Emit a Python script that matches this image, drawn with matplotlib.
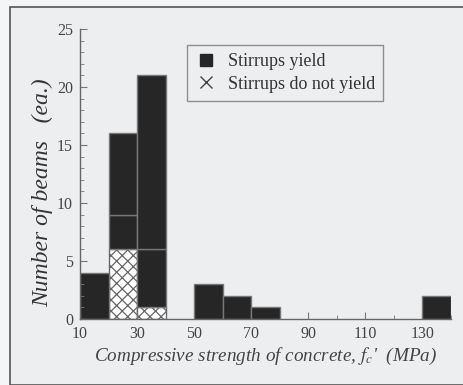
import matplotlib
matplotlib.use("Agg")
import matplotlib.pyplot as plt
from matplotlib.patches import Patch, Rectangle
from matplotlib.lines import Line2D
import numpy as np

bin_left = [10, 20, 30, 50, 60, 70, 130]
bin_width = 10
not_yield = [0, 6, 1, 0, 0, 0, 0]
yield_low = [0, 3, 5, 0, 0, 0, 0]
yield_high = [4, 7, 15, 3, 2, 1, 2]
xticks = [10, 30, 50, 70, 90, 110, 130]
yticks = [0, 5, 10, 15, 20, 25]

plt.rcParams['font.family'] = ['Liberation Serif', 'DejaVu Serif']
plt.rcParams['mathtext.fontset'] = 'stix'
plt.rcParams['hatch.color'] = '#666666'
plt.rcParams['hatch.linewidth'] = 0.9

fig = plt.figure(figsize=(4.63, 3.85), dpi=100, facecolor='#f4f5f6')
fig.patches.append(Rectangle((10/463, 0), 1, 1 - 7/385, transform=fig.transFigure,
                             facecolor='#eceef0', edgecolor='#555555', linewidth=1.2, zorder=-1))
ax = fig.add_axes([80/463, 1 - 319/385, (451-80)/463, (319-29)/385])
ax.set_facecolor('none')

nb = np.array(not_yield)
yl = np.array(yield_low)
yh = np.array(yield_high)
ax.bar(bin_left, nb, width=bin_width, align='edge', facecolor='white',
       edgecolor='#666666', hatch='xxx', linewidth=1.0)
ax.bar(bin_left, yl, bottom=nb, width=bin_width, align='edge', facecolor='#262626',
       edgecolor='#777777', linewidth=1.0)
ax.bar(bin_left, yh, bottom=nb + yl, width=bin_width, align='edge', facecolor='#262626',
       edgecolor='#777777', linewidth=1.0)

ax.set_xlim(10, 140)
ax.set_ylim(0, 25)
ax.set_xticks(xticks)
ax.set_xticks(np.arange(10, 141, 10), minor=True)
ax.set_yticks(yticks)
ax.set_yticks(np.arange(0, 26, 1), minor=True)
for s in ['top', 'right']:
    ax.spines[s].set_visible(False)
for s in ['left', 'bottom']:
    ax.spines[s].set_color('#666666')
    ax.spines[s].set_linewidth(1.0)
ax.tick_params(which='both', direction='in', colors='#777777', labelcolor='#444444', labelsize=11.5)
ax.tick_params(which='major', length=5)
ax.tick_params(axis='x', which='major', pad=5)
ax.tick_params(axis='y', which='major', pad=5)
ax.tick_params(which='minor', length=3)

ax.set_ylabel('Number of beams   (ea.)', fontsize=17, style='italic', color='#333333')
ax.yaxis.set_label_coords(-(80-53)/(451-80), (319-193)/(319-29))
ax.set_xlabel("Compressive strength of concrete, $f_c$'  (MPa)", fontsize=13.8, style='italic',
              color='#444444', labelpad=3)

handles = [Line2D([], [], marker='s', color='none', markerfacecolor='#262626',
                  markeredgecolor='#262626', markersize=9),
           Line2D([], [], marker='x', color='none', markeredgecolor='#444444', markersize=8,
                  markeredgewidth=1.0)]
leg = ax.legend(handles, ['Stirrups yield', 'Stirrups do not yield'], loc='upper left',
                bbox_to_anchor=((187-80)/(451-80), (319-45)/(319-29)), fontsize=13,
                frameon=True, fancybox=False, edgecolor='#777777', facecolor='none',
                handlelength=1.2, handletextpad=0.6, borderpad=0.45, labelspacing=0.3,
                borderaxespad=0)
leg.get_frame().set_linewidth(1.0)
for t in leg.get_texts():
    t.set_color('#333333')

fig.savefig('out.png', dpi=100, facecolor=fig.get_facecolor())
